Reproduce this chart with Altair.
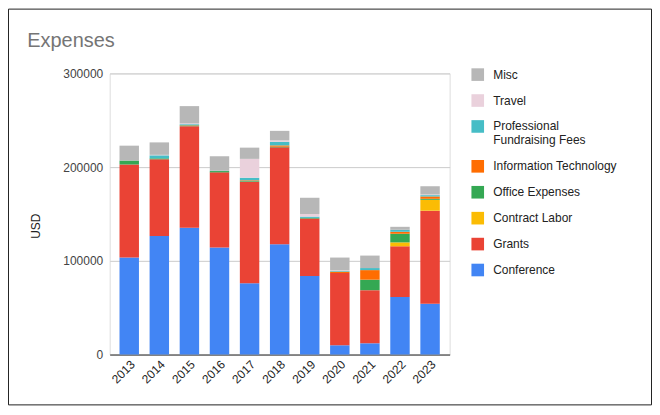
import altair as alt
import pandas as pd

years = ["2013", "2014", "2015", "2016", "2017", "2018", "2019", "2020", "2021", "2022", "2023"]

# stack order, bottom to top
categories = ["Conference", "Grants", "Contract Labor", "Office Expenses",
              "Information Technology", "Professional Fundraising Fees", "Travel", "Misc"]
colors = ["#4285F4", "#EA4335", "#FBBC04", "#34A853", "#FF6D01", "#46BDC6", "#EAD1DC", "#B7B7B7"]

conference = [103500, 126400, 135200, 114100, 76100, 117600, 83800, 9900, 12000, 61300, 54200]
grants = [99300, 82000, 108500, 80300, 108400, 103500, 61300, 77100, 56700, 54200, 99300]
contract_labor = [0, 0, 0, 0, 0, 0, 0, 0, 0, 4200, 11600]
office_expenses = [4200, 1000, 800, 1400, 700, 700, 700, 0, 11200, 9200, 1100]
information_technology = [0, 0, 300, 0, 700, 1400, 0, 1400, 10200, 2100, 2500]
professional_fees = [0, 3200, 1000, 300, 2800, 3900, 1400, 700, 2200, 2100, 1400]
travel = [0, 500, 800, 0, 20100, 1400, 2800, 700, 0, 0, 700]
misc = [15900, 13300, 18500, 15500, 12000, 10200, 17300, 13700, 13300, 3200, 8800]

series = [conference, grants, contract_labor, office_expenses,
          information_technology, professional_fees, travel, misc]

rows = []
for ci, (cat, vals) in enumerate(zip(categories, series)):
    for y, v in zip(years, vals):
        rows.append({"Year": y, "Category": cat, "USD": v, "order": ci})
df = pd.DataFrame(rows)

legend_domain = categories[::-1]
legend_range = colors[::-1]

FONT = "Liberation Sans"
W, H = 341, 282
PL, PT, PR, PB = 102, 65, 203, 51

bars = alt.Chart(df).mark_bar(size=19.5).encode(
    x=alt.X("Year:N", sort=years,
            scale=alt.Scale(paddingInner=0.354, paddingOuter=0.327),
            axis=alt.Axis(title=None, labelAngle=-45, labelFontSize=12, labelColor="#222222",
                          labelFont=FONT, ticks=False, domainColor="#333333", labelPadding=4,
                          grid=False)),
    y=alt.Y("USD:Q", stack="zero",
            scale=alt.Scale(domain=[0, 300000], nice=False),
            axis=alt.Axis(title="USD", values=[0, 100000, 200000, 300000], format="d",
                          labelFontSize=12, labelColor="#444444", labelFont=FONT,
                          ticks=False, domain=False, labelPadding=7,
                          gridColor="#cccccc", titleFont=FONT, titleFontSize=12,
                          titleFontWeight="normal", titleColor="#222222",
                          titleX=-70.7, titleY=152.7, titleAngle=270,
                          titleAlign="center", titleBaseline="alphabetic")),
    color=alt.Color("Category:N",
                    scale=alt.Scale(domain=legend_domain, range=legend_range),
                    legend=alt.Legend(title=None, orient="none", legendX=362.7, legendY=-5.3,
                                      symbolType="square", symbolSize=160, symbolStrokeWidth=0,
                                      labelFont=FONT, labelFontSize=12, labelColor="#222222",
                                      labelOffset=9, rowPadding=13, padding=0, labelLimit=300,
                                      labelExpr="datum.label == 'Professional Fundraising Fees' ? ['Professional', 'Fundraising Fees'] : datum.label")),
    order=alt.Order("order:Q", sort="ascending"),
)

border = alt.Chart(pd.DataFrame({"a": [0]})).mark_rect(
    fill=None, stroke="#222222", strokeWidth=1
).encode(
    x=alt.value(-PL + 0.5), x2=alt.value(W + PR - 0.5),
    y=alt.value(-PT + 0.5), y2=alt.value(H + PB - 0.5),
)

chart = alt.layer(bars, border).properties(
    width=W, height=H,
    title=alt.TitleParams("Expenses", anchor="start", frame="group", dx=-82.7, dy=59,
                          font=FONT, fontSize=20, fontWeight="normal", color="#757575",
                          baseline="alphabetic", offset=0),
    autosize=alt.AutoSizeParams(type="none"),
    padding={"left": PL, "top": PT, "right": PR, "bottom": PB},
).configure_view(stroke=None).configure(background="white")

chart.save("out.html", embed_options={"renderer": "svg", "actions": False})
